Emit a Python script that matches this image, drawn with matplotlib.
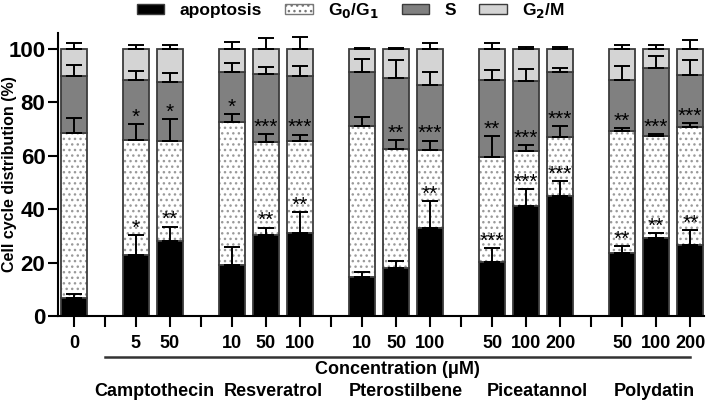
import numpy as np
import matplotlib
matplotlib.use('Agg')
import matplotlib.pyplot as plt
from matplotlib.patches import Patch
import matplotlib.transforms as mtransforms

plt.rcParams['font.family'] = ['Liberation Sans', 'DejaVu Sans']
plt.rcParams['font.weight'] = 'bold'
plt.rcParams['hatch.linewidth'] = 1.0

# data (cumulative tops of each segment)
groups = ['', 'Camptothecin', 'Resveratrol', 'Pterostilbene', 'Piceatannol', 'Polydatin']
conc = [['0'], ['5', '50'], ['10', '50', '100'], ['10', '50', '100'], ['50', '100', '200'], ['50', '100', '200']]

apoptosis = [6.6, 22.9, 28.1, 19.1, 30.4, 31.0, 14.7, 18.1, 32.9, 20.4, 41.0, 45.0, 23.7, 29.1, 26.6]
g0g1_top = [68.5, 66.0, 65.6, 72.5, 65.0, 65.4, 71.0, 62.5, 62.2, 59.7, 61.6, 66.9, 69.1, 67.5, 70.6]
s_top = [90.0, 88.5, 87.5, 91.2, 90.6, 90.0, 91.2, 89.1, 86.6, 88.2, 88.1, 91.2, 88.5, 92.9, 90.4]
g2m_top = [100] * 15

apo_err = [1.5, 7.5, 5.4, 6.7, 2.7, 7.9, 1.9, 2.5, 10.0, 5.0, 6.5, 5.6, 2.5, 2.1, 5.6]
g0_err = [5.6, 6.0, 8.1, 3.1, 3.2, 2.5, 3.4, 3.5, 3.5, 7.8, 2.5, 4.3, 1.3, 0.7, 1.7]
s_err = [4.1, 3.4, 3.5, 3.5, 2.5, 3.7, 5.0, 6.9, 4.6, 4.0, 4.4, 1.7, 5.0, 4.3, 5.6]
g2m_err = [2.1, 1.6, 1.4, 2.7, 3.9, 4.5, 0.5, 0.4, 2.2, 2.2, 0.7, 0.6, 1.4, 1.4, 3.2]

apo_star = ['', '*', '**', '', '**', '**', '', '', '**', '***', '***', '***', '**', '**', '**']
g0_star = ['', '*', '*', '*', '***', '***', '', '**', '***', '**', '***', '***', '**', '***', '***']

# x positions with gaps between groups
gap = 1.82
x = []
sep = []
pos = 0.0
for gi, g in enumerate(conc):
    if gi > 0:
        sep.append(pos - 1 + gap / 2)
        pos = pos - 1 + gap
    for c in g:
        x.append(pos)
        pos += 1
x = np.array(x)
labels = [c for g in conc for c in g]

apoptosis = np.array(apoptosis)
g0g1_top = np.array(g0g1_top)
s_top = np.array(s_top)
g2m_top = np.array(g2m_top)

fig = plt.figure(figsize=(7.06, 4.01), dpi=100)
ax = fig.add_axes([0.082, 0.212, 0.915, 0.706])

w = 0.76
edge = '#3c3c3c'
lw = 1.3
ax.bar(x, apoptosis, w, color='black', edgecolor=edge, linewidth=lw, zorder=2)
ax.bar(x, g0g1_top - apoptosis, w, bottom=apoptosis, color='white', edgecolor='#9a9a9a',
       hatch='...', linewidth=0, zorder=2)
ax.bar(x, g0g1_top - apoptosis, w, bottom=apoptosis, fill=False, edgecolor=edge, linewidth=lw, zorder=2)
ax.bar(x, s_top - g0g1_top, w, bottom=g0g1_top, color='#808080', edgecolor=edge, linewidth=lw, zorder=2)
ax.bar(x, g2m_top - s_top, w, bottom=s_top, color='#d4d4d4', edgecolor=edge, linewidth=lw, zorder=2)

for tops, errs in [(apoptosis, apo_err), (g0g1_top, g0_err), (s_top, s_err), (g2m_top, g2m_err)]:
    ax.errorbar(x, tops, yerr=[np.zeros(len(x)), errs], fmt='none', ecolor='black',
                elinewidth=1.4, capsize=6, capthick=1.4, zorder=3)

for xi, top, e, st in zip(x, apoptosis, apo_err, apo_star):
    if st:
        ax.text(xi, top + e - 1.0, st, ha='center', va='bottom', fontsize=15, fontweight='normal', zorder=4)
for xi, top, e, st in zip(x, g0g1_top, g0_err, g0_star):
    if st:
        ax.text(xi, top + e - 1.0, st, ha='center', va='bottom', fontsize=15, fontweight='normal', zorder=4)

ax.set_xlim(-0.47, x[-1] + 0.4)
ax.set_ylim(0, 106)
ax.set_yticks([0, 20, 40, 60, 80, 100])
ax.tick_params(axis='y', labelsize=16, width=1.5, length=7, pad=2)
ax.set_xticks(list(x) + sep)
ax.set_xticklabels(labels + [''] * len(sep))
ax.tick_params(axis='x', labelsize=13, width=1.5, length=8, pad=6)
for sp in ['top', 'right']:
    ax.spines[sp].set_visible(False)
for sp in ['left', 'bottom']:
    ax.spines[sp].set_linewidth(1.5)
for lab in ax.get_xticklabels() + ax.get_yticklabels():
    lab.set_fontweight('bold')

ax.set_ylabel('Cell cycle distribution (%)', fontsize=11.5, fontweight='bold')
ax.yaxis.set_label_coords(-0.064, 0.50)

trans = mtransforms.blended_transform_factory(ax.transData, ax.transAxes)
ax.plot([sep[0], x[-1]], [-0.144, -0.144], color='#333333', lw=1.8, transform=trans, clip_on=False)
ax.text(0.5 * (sep[0] + x[-1]), -0.19, 'Concentration (μM)', transform=trans,
        ha='center', va='center', fontsize=13, fontweight='bold')
name_x = [2.35, 5.85, 9.75, 13.6, 17.05]
for nx, g in zip(name_x, groups[1:]):
    ax.text(nx, -0.265, g, transform=trans, ha='center', va='center', fontsize=13, fontweight='bold')

handles = [Patch(facecolor='black', edgecolor=edge, label='apoptosis'),
           Patch(facecolor='white', edgecolor='#777777', hatch='...', label='G$_0$/G$_1$'),
           Patch(facecolor='#808080', edgecolor=edge, label='S'),
           Patch(facecolor='#d4d4d4', edgecolor=edge, label='G$_2$/M')]
leg = fig.legend(handles=handles, loc='center', bbox_to_anchor=(0.497, 0.973), ncol=4, frameon=False,
                 fontsize=12.5, handlelength=1.6, handleheight=0.45, columnspacing=1.3, handletextpad=0.9)
for t in leg.get_texts():
    t.set_fontweight('bold')

fig.savefig('out.png', dpi=100)
